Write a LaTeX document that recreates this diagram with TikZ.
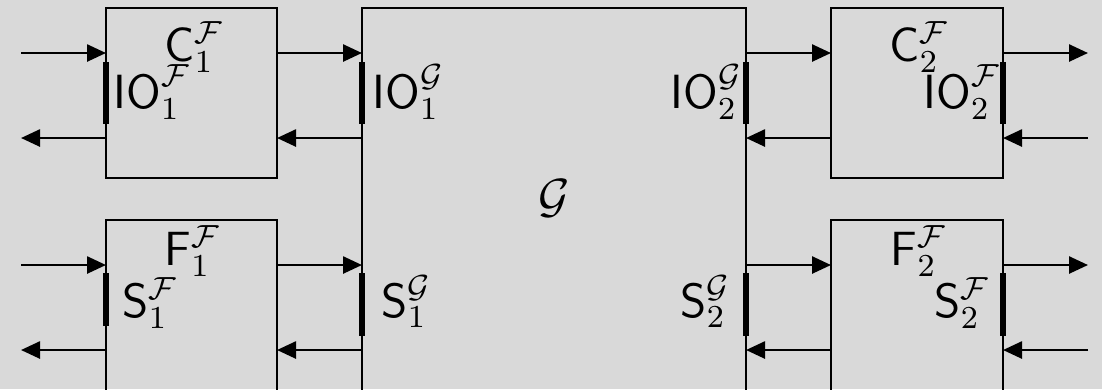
\documentclass[tikz,border=0pt]{standalone}
\usepackage{fontspec}
\usetikzlibrary{arrows.meta,fit}
\definecolor{bg}{RGB}{217,217,217}
\begin{document}
\begin{tikzpicture}[x=0.25pt,y=-0.25pt,
  box/.style={draw,line width=0.65pt,inner sep=0pt,outer sep=0pt},
  arr/.style={line width=0.65pt,-{Triangle[length=4.75pt,width=4.25pt]}},
  portbar/.style={line width=1.45pt},
  lbl/.style={inner sep=0pt,anchor=base west,font=\large},
  glbl/.style={inner sep=0pt,anchor=center,font=\large}]
\fill[bg] (0,0) rectangle (1102,389);
\clip (0,0) rectangle (1102,389);
% levels
\coordinate (yA) at (0,53);
\coordinate (yB) at (0,138);
\coordinate (yC) at (0,265);
\coordinate (yD) at (0,350);
\coordinate (b1) at (0,62);
\coordinate (b2) at (0,124);
\coordinate (b3) at (0,273);
\coordinate (b4) at (0,326);
\coordinate (b5) at (0,336);
\coordinate (xL) at (21,0);
\coordinate (xR) at (1088,0);
% boxes
\node[box,fit={(106,8) (277,178)}] (C1) {};
\node[box,fit={(106,220) (277,400)}] (F1) {};
\node[box,fit={(362,8) (746,400)}] (G) {};
\node[box,fit={(831,8) (1003,178)}] (C2) {};
\node[box,fit={(831,220) (1003,400)}] (F2) {};
% labels
\node[lbl] (lC1) at (164,61) {$\mathsf{C}_1^{\mathcal{F}}$};
\node[lbl] (lIO1F) at (113,108) {$\mathsf{IO}_1^{\mathcal{F}}$};
\node[lbl] (lIO1G) at (372,108) {$\mathsf{IO}_1^{\mathcal{G}}$};
\node[lbl] (lIO2G) at (670,108) {$\mathsf{IO}_2^{\mathcal{G}}$};
\node[lbl] (lC2) at (889,61) {$\mathsf{C}_2^{\mathcal{F}}$};
\node[lbl] (lIO2F) at (923,108) {$\mathsf{IO}_2^{\mathcal{F}}$};
\node[lbl] (lF1) at (164,265) {$\mathsf{F}_1^{\mathcal{F}}$};
\node[lbl] (lS1F) at (122,317) {$\mathsf{S}_1^{\mathcal{F}}$};
\node[lbl] (lS1G) at (381,317) {$\mathsf{S}_1^{\mathcal{G}}$};
\node[lbl] (lS2G) at (680,317) {$\mathsf{S}_2^{\mathcal{G}}$};
\node[lbl] (lF2) at (890,265) {$\mathsf{F}_2^{\mathcal{F}}$};
\node[lbl] (lS2F) at (934,317) {$\mathsf{S}_2^{\mathcal{F}}$};
\node[glbl] (lG) at (554,198) {$\mathcal{G}$};
% port bars
\draw[portbar] (C1.west |- b1) -- (C1.west |- b2);
\draw[portbar] (G.west |- b1) -- (G.west |- b2);
\draw[portbar] (G.east |- b1) -- (G.east |- b2);
\draw[portbar] (C2.east |- b1) -- (C2.east |- b2);
\draw[portbar] (F1.west |- b3) -- (F1.west |- b4);
\draw[portbar] (G.west |- b3) -- (G.west |- b5);
\draw[portbar] (G.east |- b3) -- (G.east |- b5);
\draw[portbar] (F2.east |- b3) -- (F2.east |- b5);
% arrows top
\draw[arr] (xL |- yA) -- (C1.west |- yA);
\draw[arr] (C1.west |- yB) -- (xL |- yB);
\draw[arr] (C1.east |- yA) -- (G.west |- yA);
\draw[arr] (G.west |- yB) -- (C1.east |- yB);
\draw[arr] (G.east |- yA) -- (C2.west |- yA);
\draw[arr] (C2.west |- yB) -- (G.east |- yB);
\draw[arr] (C2.east |- yA) -- (xR |- yA);
\draw[arr] (xR |- yB) -- (C2.east |- yB);
% arrows bottom
\draw[arr] (xL |- yC) -- (F1.west |- yC);
\draw[arr] (F1.west |- yD) -- (xL |- yD);
\draw[arr] (F1.east |- yC) -- (G.west |- yC);
\draw[arr] (G.west |- yD) -- (F1.east |- yD);
\draw[arr] (G.east |- yC) -- (F2.west |- yC);
\draw[arr] (F2.west |- yD) -- (G.east |- yD);
\draw[arr] (F2.east |- yC) -- (xR |- yC);
\draw[arr] (xR |- yD) -- (F2.east |- yD);
\end{tikzpicture}
\end{document}
